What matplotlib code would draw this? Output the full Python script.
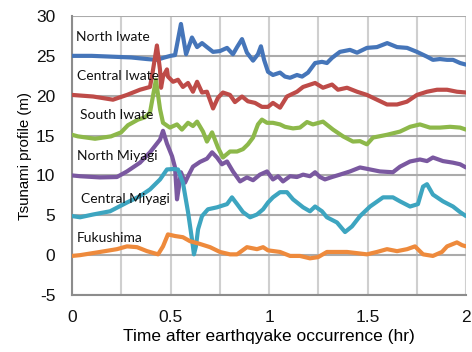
import matplotlib
matplotlib.use("Agg")
import matplotlib.pyplot as plt

# Tsunami waveforms (m) along the coast, time in hours after the earthquake
north_iwate_t = [0, 0.1, 0.2, 0.3, 0.38, 0.43, 0.47, 0.5, 0.523, 0.553, 0.579, 0.609, 0.635,
                 0.66, 0.685, 0.716, 0.751, 0.787, 0.817, 0.838, 0.863, 0.888, 0.919, 0.944,
                 0.959, 0.975, 0.995, 1.02, 1.056, 1.081, 1.107, 1.142, 1.168, 1.198, 1.234,
                 1.269, 1.294, 1.32, 1.36, 1.411, 1.447, 1.497, 1.548, 1.6, 1.65, 1.701,
                 1.751, 1.802, 1.832, 1.868, 1.904, 1.934, 1.97, 2.0]
north_iwate_v = [25.0, 25.0, 24.9, 24.8, 24.6, 24.5, 24.8, 25.0, 25.1, 29.0, 25.2, 27.3, 26.1,
                 26.6, 26.1, 25.5, 25.6, 26.0, 25.2, 26.1, 27.1, 25.4, 24.4, 25.2,
                 26.2, 24.5, 23.0, 22.6, 22.9, 22.4, 22.25, 22.6, 22.4, 22.9, 24.1,
                 24.25, 24.1, 24.75, 25.5, 25.75, 25.4, 26.0, 26.1, 26.6, 26.1, 26.0,
                 25.5, 24.9, 24.5, 24.6, 24.5, 24.5, 24.1, 23.9]

central_iwate_t = [0, 0.107, 0.208, 0.279, 0.345, 0.396, 0.411, 0.431, 0.447, 0.452, 0.462,
                   0.482, 0.487, 0.513, 0.538, 0.563, 0.589, 0.614, 0.635, 0.66, 0.685, 0.716,
                   0.741, 0.766, 0.802, 0.827, 0.863, 0.893, 0.929, 0.964, 0.995, 1.02, 1.056,
                   1.091, 1.142, 1.173, 1.234, 1.274, 1.32, 1.35, 1.396, 1.447, 1.497, 1.548,
                   1.599, 1.65, 1.7, 1.751, 1.802, 1.853, 1.904, 1.954, 2.0]
central_iwate_v = [20.1, 19.9, 19.5, 20.1, 20.75, 21.1, 23.2, 26.3, 23.2, 21.0, 22.4,
                   23.3, 22.4, 21.75, 22.0, 21.1, 21.6, 20.5, 21.75, 20.4, 20.5, 18.4,
                   19.75, 20.4, 20.1, 19.2, 19.9, 19.3, 19.1, 18.6, 18.6, 19.1, 18.5,
                   19.9, 20.5, 21.1, 21.6, 21.0, 21.4, 20.75, 21.0, 20.5, 20.1, 19.5,
                   18.9, 18.9, 19.25, 20.1, 20.5, 20.75, 20.75, 20.5, 20.4]

south_iwate_t = [0, 0.03, 0.117, 0.198, 0.249, 0.284, 0.335, 0.371, 0.396, 0.426, 0.447,
                 0.462, 0.497, 0.533, 0.558, 0.589, 0.614, 0.635, 0.665, 0.685, 0.711, 0.741,
                 0.766, 0.802, 0.838, 0.868, 0.893, 0.919, 0.944, 0.964, 0.99, 1.02, 1.056,
                 1.081, 1.122, 1.157, 1.193, 1.223, 1.274, 1.325, 1.376, 1.426, 1.462, 1.497,
                 1.528, 1.599, 1.665, 1.716, 1.766, 1.817, 1.868, 1.919, 1.97, 2.0]
south_iwate_v = [15.1, 14.9, 14.6, 14.9, 15.4, 16.3, 17.0, 17.3, 17.9, 22.0, 18.3,
                 16.6, 16.0, 16.4, 15.75, 16.6, 16.2, 16.75, 15.5, 14.25, 15.4, 13.5,
                 12.25, 13.0, 13.0, 13.3, 13.9, 14.75, 16.4, 17.0, 16.6, 16.6, 16.4,
                 16.1, 15.9, 16.0, 16.7, 16.4, 16.75, 15.75, 14.9, 14.25, 14.3, 13.9,
                 14.75, 15.1, 15.5, 16.1, 16.4, 16.0, 16.0, 16.1, 16.0, 15.75]

north_miyagi_t = [0, 0.041, 0.142, 0.228, 0.279, 0.345, 0.396, 0.447, 0.462, 0.482, 0.508,
                  0.523, 0.533, 0.543, 0.553, 0.574, 0.589, 0.614, 0.65, 0.685, 0.711, 0.736,
                  0.761, 0.787, 0.817, 0.853, 0.888, 0.919, 0.954, 0.99, 1.02, 1.046, 1.071,
                  1.107, 1.142, 1.173, 1.208, 1.234, 1.259, 1.284, 1.32, 1.36, 1.411, 1.462,
                  1.513, 1.563, 1.629, 1.665, 1.716, 1.766, 1.802, 1.832, 1.883, 1.934, 1.97,
                  2.0]
north_miyagi_v = [10.0, 9.9, 9.75, 9.8, 10.5, 11.6, 12.9, 14.5, 15.6, 14.0, 12.4,
                  11.0, 7.0, 8.6, 10.4, 9.1, 9.9, 11.1, 11.7, 12.1, 12.9, 12.25,
                  11.4, 11.75, 10.5, 9.25, 9.75, 9.4, 10.1, 10.5, 9.5, 9.9, 9.25,
                  9.9, 9.8, 10.1, 9.9, 10.4, 9.8, 9.5, 9.8, 10.1, 10.5, 11.0,
                  10.75, 10.5, 10.4, 11.1, 11.75, 12.0, 11.8, 12.25, 11.8, 11.6, 11.4,
                  11.0]

central_miyagi_t = [0, 0.041, 0.107, 0.193, 0.279, 0.345, 0.396, 0.447, 0.482, 0.513, 0.538,
                    0.563, 0.589, 0.609, 0.619, 0.629, 0.64, 0.66, 0.69, 0.736, 0.787, 0.812,
                    0.838, 0.868, 0.904, 0.939, 0.97, 0.995, 1.02, 1.056, 1.091, 1.122, 1.173,
                    1.208, 1.234, 1.269, 1.294, 1.345, 1.386, 1.421, 1.462, 1.513, 1.579,
                    1.629, 1.665, 1.716, 1.756, 1.782, 1.802, 1.832, 1.883, 1.934, 1.97, 2.0]
central_miyagi_v = [4.9, 4.75, 5.1, 5.5, 6.6, 7.4, 8.25, 9.5, 10.75, 10.8, 10.75,
                    9.1, 5.4, 2.0, 0.1, 1.1, 3.25, 4.9, 5.75, 6.0, 6.4, 7.25,
                    6.4, 5.4, 4.75, 5.1, 5.75, 6.6, 7.25, 7.9, 7.9, 7.0, 6.0,
                    5.5, 6.1, 5.5, 4.75, 4.1, 2.9, 3.6, 4.9, 6.1, 7.25,
                    7.25, 6.75, 6.1, 6.4, 8.6, 8.9, 7.6, 6.75, 6.1, 5.4, 4.9]

fukushima_t = [0, 0.041, 0.142, 0.228, 0.279, 0.33, 0.381, 0.437, 0.462, 0.487, 0.523,
               0.563, 0.599, 0.65, 0.701, 0.751, 0.802, 0.838, 0.888, 0.939, 0.97, 0.995,
               1.056, 1.107, 1.157, 1.208, 1.249, 1.294, 1.345, 1.396, 1.447, 1.497, 1.548,
               1.599, 1.65, 1.701, 1.741, 1.782, 1.832, 1.878, 1.904, 1.934, 1.954, 1.98, 2.0]
fukushima_v = [-0.1, 0.0, 0.4, 0.75, 1.1, 1.0, 0.5, 0.1, 1.1, 2.6, 2.4,
               2.25, 1.75, 1.4, 1.0, 0.4, 0.1, 0.1, 1.0, 0.75, 1.0, 0.6,
               0.4, -0.1, -0.1, -0.4, -0.25, 0.4, 0.4, 0.4, 0.25, 0.1, 0.4,
               0.75, 0.5, 0.75, 1.1, 0.1, -0.1, 0.4, 1.1, 1.4, 1.6, 1.25, 1.1]

station_names = ["North Iwate", "Central Iwate", "South Iwate",
                 "North Miyagi", "Central Miyagi", "Fukushima"]
label_x = [0.02, 0.025, 0.04, 0.025, 0.045, 0.025]
label_y = [27.4, 22.5, 17.6, 12.4, 7.0, 2.1]

x_ticks = [0, 0.25, 0.5, 0.75, 1, 1.25, 1.5, 1.75, 2]
x_tick_labels = ["0", "", "0.5", "", "1", "", "1.5", "", "2"]
y_ticks = [-5, 0, 5, 10, 15, 20, 25, 30]

series = [
    (north_iwate_t, north_iwate_v, "#4575B9"),
    (central_iwate_t, central_iwate_v, "#BE4B48"),
    (south_iwate_t, south_iwate_v, "#8DB84A"),
    (north_miyagi_t, north_miyagi_v, "#7A58A0"),
    (central_miyagi_t, central_miyagi_v, "#3DA5C0"),
    (fukushima_t, fukushima_v, "#EE8A3C"),
]

plt.rcParams["font.family"] = ["Liberation Sans", "DejaVu Sans"]
plt.rcParams["axes.unicode_minus"] = False

fig = plt.figure(figsize=(4.72, 3.52), dpi=100)
ax = fig.add_axes([72 / 472, 1 - 295 / 352, (466 - 72) / 472, (295 - 16) / 352])

for t, v, c in series:
    ax.plot(t, v, color=c, lw=3.0, solid_joinstyle="round", solid_capstyle="round", zorder=3)

for name, lx, ly in zip(station_names, label_x, label_y):
    ax.text(lx, ly, name, fontsize=10, family=["Lato", "DejaVu Sans"],
            ha="left", va="center", color="#111111", zorder=4)

ax.set_xlim(0, 2)
ax.set_ylim(-5, 30)
ax.set_xticks(x_ticks)
ax.set_xticklabels(x_tick_labels)
ax.set_yticks(y_ticks)
ax.tick_params(axis="both", length=0, labelsize=12.5, colors="#111111")
ax.tick_params(axis="x", pad=11)
ax.tick_params(axis="y", pad=12)

ax.xaxis.grid(True, color="#CFCFCF", lw=1.5)
ax.yaxis.grid(True, color="#ABABAB", lw=1.5)
ax.set_axisbelow(True)
for side in ["top", "right"]:
    ax.spines[side].set_visible(False)
for side in ["left", "bottom"]:
    ax.spines[side].set_color("#8C8C8C")
    ax.spines[side].set_linewidth(1.5)

ax.set_xlabel("Time after earthqyake occurrence (hr)", fontsize=12.5, labelpad=3)
ax.set_ylabel("Tsunami profile (m)", fontsize=10.8, labelpad=3)

fig.savefig("out.png", dpi=100)
